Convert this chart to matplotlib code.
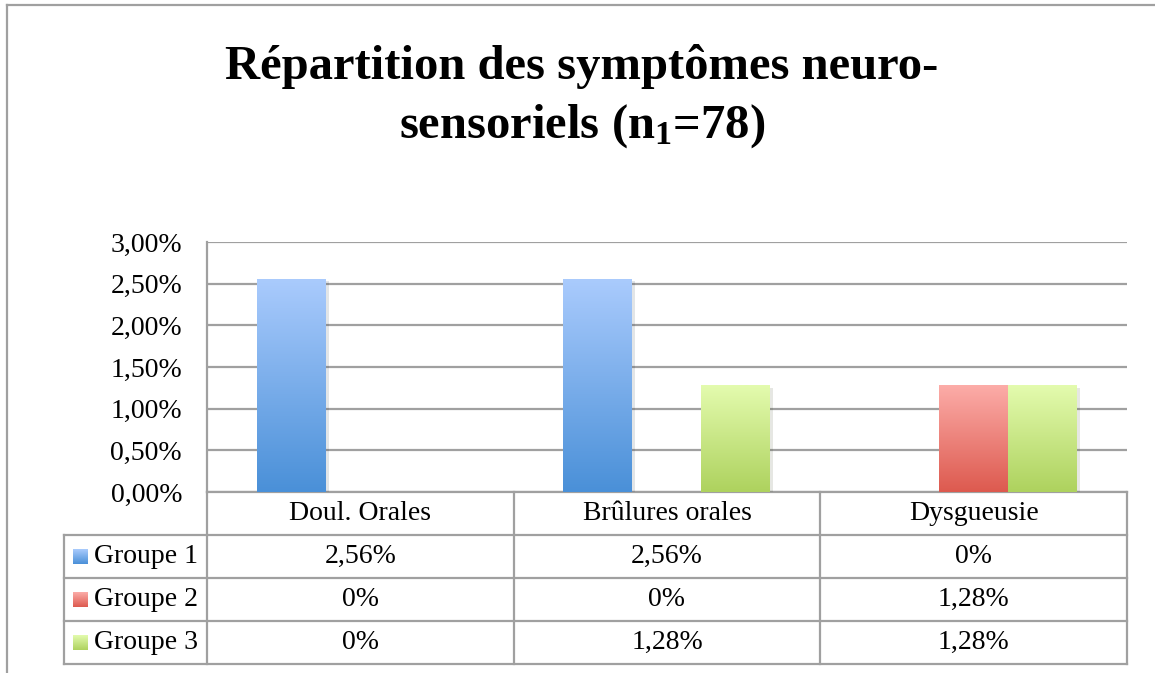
import matplotlib
matplotlib.use("Agg")
import matplotlib.pyplot as plt
import numpy as np
from matplotlib.lines import Line2D
from matplotlib.transforms import blended_transform_factory
import matplotlib.patheffects as pe

# Data
categories = ["Doul. Orales", "Brûlures orales", "Dysgueusie"]
groups = ["Groupe 1", "Groupe 2", "Groupe 3"]
groupe_1 = [2.56, 2.56, 0]
groupe_2 = [0, 0, 1.28]
groupe_3 = [0, 1.28, 1.28]
y_ticks = [0, 0.5, 1.0, 1.5, 2.0, 2.5, 3.0]

# gradient colours (top, bottom)
colors = [("#aacbfd", "#4a90d8"), ("#fcaca8", "#dd5a4f"), ("#e3fbae", "#aed25e")]
grid_col = "#a0a0a0"
font = "Liberation Serif"

plt.rcParams["mathtext.fontset"] = "custom"
plt.rcParams["mathtext.rm"] = "Liberation Serif"
plt.rcParams["mathtext.bf"] = "Liberation Serif:bold"

W, H = 1155, 673
fig = plt.figure(figsize=(W / 100, H / 100), dpi=100)

def fx(px):
    return px / W

def fy(py):
    return 1 - py / H

ax = fig.add_axes([fx(207), fy(492), fx(1127) - fx(207), fy(242) - fy(492)])

x = np.arange(len(categories))
bw = 0.225
series = [groupe_1, groupe_2, groupe_3]

def grad(c1, c2):
    a = np.array(matplotlib.colors.to_rgb(c1))
    b = np.array(matplotlib.colors.to_rgb(c2))
    t = np.linspace(0, 1, 100)[:, None]
    return (a * (1 - t) + b * t)[:, None, :]

for i, vals in enumerate(series):
    bars = ax.bar(x + (i - 1) * bw, vals, width=bw, color=colors[i][1], zorder=3,
                  path_effects=[pe.SimplePatchShadow(offset=(2, -2), alpha=0.12), pe.Normal()])
    for b in bars:
        if b.get_height() <= 0:
            continue
        x0, y0 = b.get_x(), b.get_y()
        im = ax.imshow(grad(*colors[i]), extent=[x0, x0 + b.get_width(), y0, y0 + b.get_height()],
                       aspect="auto", zorder=4, interpolation="bilinear")
        im.set_clip_path(b)

ax.set_xlim(-0.5, len(categories) - 0.5)
ax.set_ylim(0, 3.0)
ax.set_yticks(y_ticks)
ax.set_yticklabels([f"{v:.2f}".replace(".", ",") + "%" for v in y_ticks],
                   fontfamily=font, fontsize=20)
ax.set_xticks([])
ax.tick_params(axis="y", length=0, pad=18)
ax.grid(axis="y", color=grid_col, linewidth=1.6, zorder=0)
for s in ["top", "right"]:
    ax.spines[s].set_visible(False)
for s in ["left", "bottom"]:
    ax.spines[s].set_color(grid_col)
    ax.spines[s].set_linewidth(1.6)

# data table under the chart
tr = blended_transform_factory(ax.transData, fig.transFigure)
row_tops = [492, 535, 578, 621, 664]
left_px = 64
edges = np.arange(len(categories) + 1) - 0.5

for py in row_tops[1:]:
    fig.add_artist(Line2D([fx(left_px), fx(1127)], [fy(py), fy(py)], color=grid_col, lw=1.6))
for e in edges:
    ax.add_line(Line2D([e, e], [fy(492), fy(664)], transform=tr, color=grid_col, lw=1.6, clip_on=False))
fig.add_artist(Line2D([fx(left_px), fx(left_px)], [fy(535), fy(664)], color=grid_col, lw=1.6))

for j, c in enumerate(categories):
    ax.text(x[j], fy((row_tops[0] + row_tops[1]) / 2), c, transform=tr, ha="center", va="center",
            fontfamily=font, fontsize=20, clip_on=False)

for i, (g, vals) in enumerate(zip(groups, series)):
    yc = (row_tops[i + 1] + row_tops[i + 2]) / 2
    sq = fig.add_axes([fx(73), fy(yc + 7.5), fx(15), 15 / H])
    sq.imshow(grad(*colors[i]), aspect="auto", interpolation="bilinear")
    sq.axis("off")
    fig.text(fx(94), fy(yc), g, ha="left", va="center", fontfamily=font, fontsize=20)
    for j, v in enumerate(vals):
        lab = "0%" if v == 0 else f"{v:.2f}".replace(".", ",") + "%"
        ax.text(x[j], fy(yc), lab, transform=tr, ha="center", va="center",
                fontfamily=font, fontsize=20, clip_on=False)

# title
fig.text(fx(582), fy(79), "Répartition des symptômes neuro-", ha="center", va="baseline",
         fontfamily=font, fontweight="bold", fontsize=35)
fig.text(fx(582), fy(138), "sensoriels (n$\\mathbf{_1}$=78)", ha="center", va="baseline",
         fontfamily=font, fontweight="bold", fontsize=35)

# outer frame
fig.add_artist(Line2D([fx(7), fx(7)], [fy(5), 0], color=grid_col, lw=1.6))
fig.add_artist(Line2D([fx(7), 1], [fy(5), fy(5)], color=grid_col, lw=1.6))

fig.savefig("out.png", dpi=100)
